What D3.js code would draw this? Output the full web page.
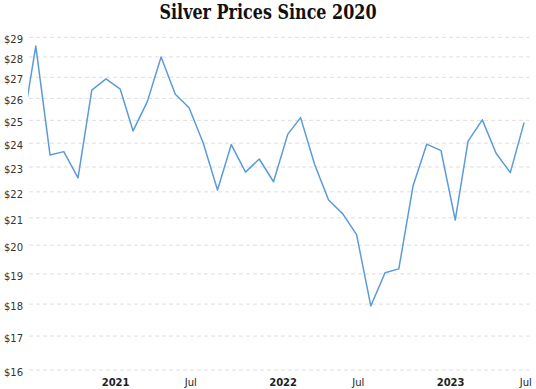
<!DOCTYPE html>
<html>
<head>
<meta charset="utf-8">
<script src="https://cdn.jsdelivr.net/npm/d3@7"></script>
<style>
  html, body { margin: 0; padding: 0; background: #fff; }
  svg { display: block; }
</style>
</head>
<body>
<svg id="chart" width="536" height="389"></svg>
<script>
// ---- Data ----
const months = [
  "2020-07","2020-08","2020-09","2020-10","2020-11","2020-12",
  "2021-01","2021-02","2021-03","2021-04","2021-05","2021-06",
  "2021-07","2021-08","2021-09","2021-10","2021-11","2021-12",
  "2022-01","2022-02","2022-03","2022-04","2022-05","2022-06",
  "2022-07","2022-08","2022-09","2022-10","2022-11","2022-12",
  "2023-01","2023-02","2023-03","2023-04","2023-05","2023-06",
  "2023-07"
];
const prices = [
  24.43, 28.55, 23.50, 23.64, 22.56, 26.39,
  26.92, 26.43, 24.53, 25.85, 28.00, 26.19,
  25.57, 24.00, 22.07, 23.94, 22.79, 23.33,
  22.40, 24.38, 25.12, 23.08, 21.68, 21.15,
  20.38, 17.94, 19.04, 19.17, 22.23, 23.96,
  23.68, 20.92, 24.09, 25.02, 23.57, 22.77,
  24.90
];
const yTicks = [16,17,18,19,20,21,22,23,24,25,26,27,28,29];
const xTickDates = ["2021-01-01","2021-07-01","2022-01-01","2022-07-01","2023-01-01","2023-07-01"];
const xTickLabels = ["2021","Jul","2022","Jul","2023","Jul"];
const titleText = "Silver Prices Since 2020";

(function () {
  const svg = d3.select("#chart");
  const mLeft = 28, mRight = 530.5, mTop = 37.3, mBottom = 370;
  const parseMonth = d3.timeParse("%Y-%m");
  const parseDay = d3.timeParse("%Y-%m-%d");
  const data = months.map((m, i) => ({ date: parseMonth(m), value: prices[i] }));

  const x = d3.scaleTime()
    .domain([parseDay("2020-07-15"), parseDay("2023-07-15")])
    .range([mLeft, mRight]);
  const y = d3.scaleLog()
    .domain([16, 29])
    .range([mBottom, mTop]);

  // Title
  svg.append("text")
    .attr("x", 268)
    .attr("y", 19)
    .attr("text-anchor", "middle")
    .attr("font-family", "'DejaVu Serif', serif")
    .attr("font-weight", "bold")
    .attr("font-size", 20)
    .attr("fill", "#111")
    .attr("textLength", 217)
    .attr("lengthAdjust", "spacingAndGlyphs")
    .text(titleText);

  // Grid lines
  svg.append("g")
    .selectAll("line")
    .data(yTicks)
    .join("line")
    .attr("x1", mLeft + 1)
    .attr("x2", mRight - 1)
    .attr("y1", d => y(d))
    .attr("y2", d => y(d))
    .attr("stroke", "#dedede")
    .attr("stroke-width", 1)
    .attr("stroke-dasharray", "4,3");

  // Y labels
  svg.append("g")
    .selectAll("text")
    .data(yTicks)
    .join("text")
    .attr("x", 23)
    .attr("y", d => y(d) + 6)
    .attr("text-anchor", "end")
    .attr("font-family", "'DejaVu Sans', sans-serif")
    .attr("font-size", 10)
    .attr("fill", "#333")
    .text(d => "$" + d);

  // X labels
  svg.append("g")
    .selectAll("text")
    .data(xTickDates)
    .join("text")
    .attr("x", d => x(parseDay(d)) - 4.3)
    .attr("y", 386)
    .attr("text-anchor", "start")
    .attr("font-family", "'DejaVu Sans', sans-serif")
    .attr("font-size", 10)
    .attr("font-weight", (d, i) => xTickLabels[i] === "Jul" ? "normal" : "bold")
    .attr("fill", "#222")
    .text((d, i) => xTickLabels[i]);

  // Clip
  svg.append("clipPath").attr("id", "plotclip")
    .append("rect")
    .attr("x", mLeft)
    .attr("y", 0)
    .attr("width", mRight - mLeft)
    .attr("height", 389);

  // Line
  const line = d3.line()
    .x(d => x(d.date))
    .y(d => y(d.value));

  svg.append("path")
    .datum(data)
    .attr("clip-path", "url(#plotclip)")
    .attr("fill", "none")
    .attr("stroke", "#5b9bd8")
    .attr("stroke-width", 1.5)
    .attr("stroke-linejoin", "round")
    .attr("d", line);
})();
</script>
</body>
</html>
